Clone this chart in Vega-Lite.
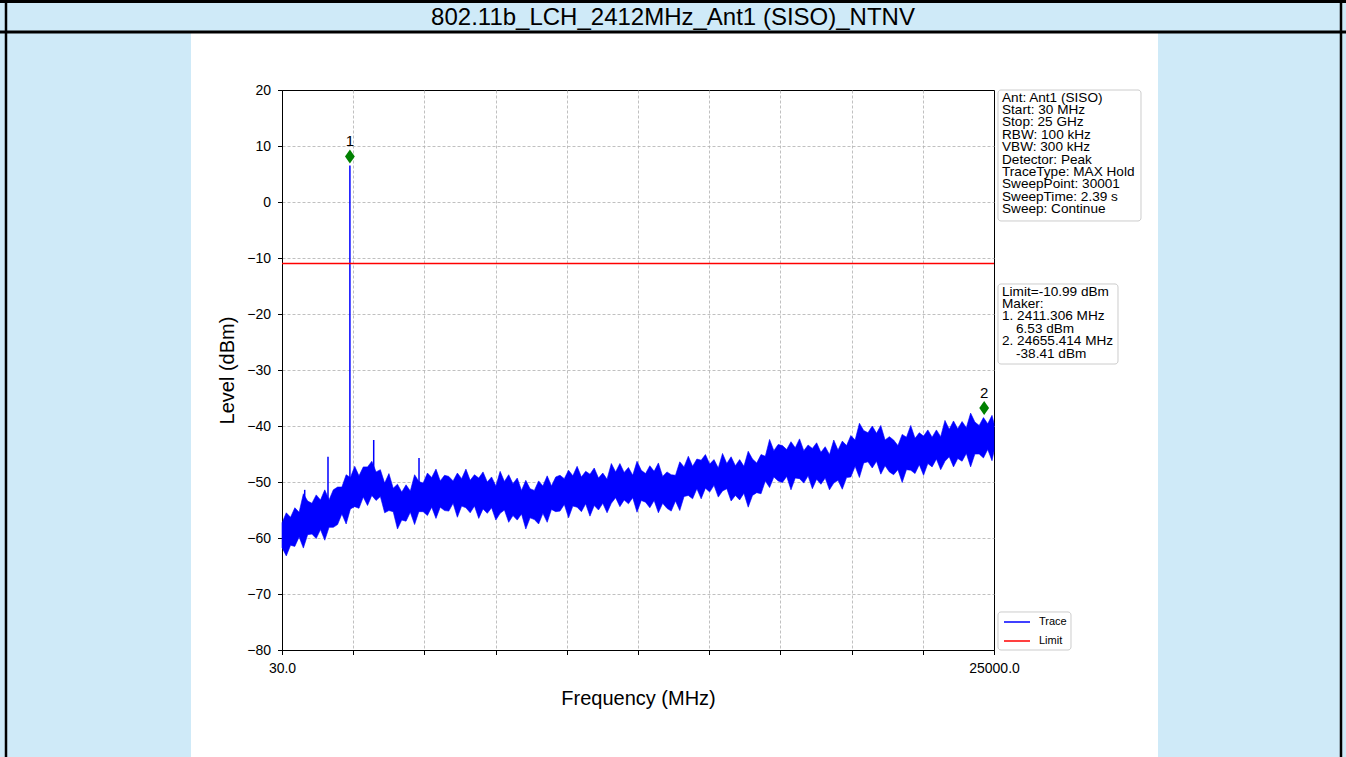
{
  "$schema": "https://vega.github.io/schema/vega-lite/v6.json",
  "width": 712,
  "height": 560,
  "autosize": {"type": "none"},
  "padding": {"left": 282, "top": 90, "right": 352, "bottom": 107},
  "background": "white",
  "config": {
    "font": "Liberation Sans",
    "view": {"stroke": "black", "strokeWidth": 1},
    "axis": {
      "labelFont": "Liberation Sans", "labelFontSize": 14, "labelColor": "black",
      "titleFont": "Liberation Sans", "titleFontSize": 20, "titleFontWeight": "normal", "titleColor": "black",
      "domainColor": "black", "domainWidth": 1, "tickColor": "black", "tickSize": 4.5, "tickWidth": 1,
      "gridColor": "#b0b0b0", "gridDash": [3, 2], "gridWidth": 0.8, "labelPadding": 7
    }
  },
  "datasets": {
    "trace": [
      {"f":30,"hi":-57.3,"lo":-61.7},{"f":180,"hi":-55.5,"lo":-63.2},{"f":330,"hi":-56.3,"lo":-61.3},{"f":480,"hi":-54.6,"lo":-61.5},
      {"f":630,"hi":-55.4,"lo":-59.8},{"f":780,"hi":-52.1,"lo":-61.8},{"f":930,"hi":-53.4,"lo":-59.4},{"f":1080,"hi":-53.8,"lo":-59.3},
      {"f":1230,"hi":-52.3,"lo":-60.1},{"f":1380,"hi":-53.2,"lo":-58.5},{"f":1530,"hi":-51.4,"lo":-60.4},{"f":1680,"hi":-53.2,"lo":-58.1},
      {"f":1830,"hi":-51.4,"lo":-58.1},{"f":1980,"hi":-50.9,"lo":-57.6},{"f":2130,"hi":-50.9,"lo":-55.7},{"f":2280,"hi":-48.7,"lo":-57.5},
      {"f":2430,"hi":-49.2,"lo":-54.8},{"f":2580,"hi":-47.2,"lo":-54.4},{"f":2730,"hi":-48.9,"lo":-54.7},{"f":2880,"hi":-47.3,"lo":-52.7},
      {"f":3030,"hi":-47.3,"lo":-54.2},{"f":3180,"hi":-46.3,"lo":-52.4},{"f":3330,"hi":-48.2,"lo":-53.3},{"f":3480,"hi":-47.8,"lo":-52.6},
      {"f":3630,"hi":-50.2,"lo":-55.5},{"f":3780,"hi":-48.5,"lo":-55.1},{"f":3930,"hi":-51.1,"lo":-55.3},{"f":4080,"hi":-50.4,"lo":-58.4},
      {"f":4230,"hi":-51.8,"lo":-56.8},{"f":4380,"hi":-50.5,"lo":-57.0},{"f":4530,"hi":-51.6,"lo":-55.4},{"f":4680,"hi":-48.7,"lo":-57.6},
      {"f":4830,"hi":-49.9,"lo":-55.3},{"f":4980,"hi":-50.2,"lo":-55.3},{"f":5130,"hi":-48.4,"lo":-56.0},{"f":5280,"hi":-49.2,"lo":-54.5},
      {"f":5430,"hi":-47.7,"lo":-56.5},{"f":5580,"hi":-49.8,"lo":-54.5},{"f":5730,"hi":-48.8,"lo":-55.1},{"f":5880,"hi":-49.0,"lo":-55.2},
      {"f":6030,"hi":-49.8,"lo":-53.8},{"f":6180,"hi":-48.4,"lo":-56.3},{"f":6330,"hi":-49.4,"lo":-54.3},{"f":6480,"hi":-47.7,"lo":-54.6},
      {"f":6630,"hi":-49.7,"lo":-55.5},{"f":6780,"hi":-48.7,"lo":-54.3},{"f":6930,"hi":-49.3,"lo":-56.5},{"f":7080,"hi":-48.2,"lo":-54.8},
      {"f":7230,"hi":-50.0,"lo":-55.6},{"f":7380,"hi":-49.1,"lo":-54.6},{"f":7530,"hi":-50.7,"lo":-56.8},{"f":7680,"hi":-48.1,"lo":-55.6},
      {"f":7830,"hi":-49.9,"lo":-55.0},{"f":7980,"hi":-48.7,"lo":-57.2},{"f":8130,"hi":-50.3,"lo":-56.0},{"f":8280,"hi":-49.3,"lo":-56.8},
      {"f":8430,"hi":-51.5,"lo":-55.7},{"f":8580,"hi":-49.7,"lo":-58.4},{"f":8730,"hi":-51.2,"lo":-56.4},{"f":8880,"hi":-51.5,"lo":-56.7},
      {"f":9030,"hi":-49.8,"lo":-57.5},{"f":9180,"hi":-50.7,"lo":-55.6},{"f":9330,"hi":-48.9,"lo":-57.2},{"f":9480,"hi":-50.7,"lo":-54.9},
      {"f":9630,"hi":-49.1,"lo":-55.3},{"f":9780,"hi":-48.8,"lo":-55.2},{"f":9930,"hi":-49.4,"lo":-54.0},{"f":10080,"hi":-47.9,"lo":-56.4},
      {"f":10230,"hi":-48.9,"lo":-54.3},{"f":10380,"hi":-47.2,"lo":-54.5},{"f":10530,"hi":-49.1,"lo":-55.3},{"f":10680,"hi":-48.1,"lo":-53.9},
      {"f":10830,"hi":-48.6,"lo":-56.1},{"f":10980,"hi":-47.5,"lo":-54.2},{"f":11130,"hi":-49.3,"lo":-55.0},{"f":11280,"hi":-48.4,"lo":-53.8},
      {"f":11430,"hi":-49.5,"lo":-55.5},{"f":11580,"hi":-46.7,"lo":-53.8},{"f":11730,"hi":-48.2,"lo":-52.8},{"f":11880,"hi":-46.7,"lo":-54.4},
      {"f":12030,"hi":-48.3,"lo":-53.2},{"f":12180,"hi":-47.4,"lo":-53.9},{"f":12330,"hi":-48.8,"lo":-52.8},{"f":12480,"hi":-46.3,"lo":-55.4},
      {"f":12630,"hi":-47.9,"lo":-53.3},{"f":12780,"hi":-48.5,"lo":-53.6},{"f":12930,"hi":-47.1,"lo":-54.6},{"f":13080,"hi":-48.1,"lo":-53.3},
      {"f":13230,"hi":-46.6,"lo":-55.5},{"f":13380,"hi":-49.0,"lo":-53.8},{"f":13530,"hi":-48.2,"lo":-54.7},{"f":13680,"hi":-48.7,"lo":-55.2},
      {"f":13830,"hi":-48.8,"lo":-53.4},{"f":13980,"hi":-46.4,"lo":-55.1},{"f":14130,"hi":-47.3,"lo":-52.6},{"f":14280,"hi":-45.4,"lo":-52.4},
      {"f":14430,"hi":-47.2,"lo":-53.0},{"f":14580,"hi":-45.9,"lo":-51.2},{"f":14730,"hi":-46.1,"lo":-53.0},{"f":14880,"hi":-45.1,"lo":-51.1},
      {"f":15030,"hi":-46.8,"lo":-51.8},{"f":15180,"hi":-46.0,"lo":-50.6},{"f":15330,"hi":-47.5,"lo":-52.7},{"f":15480,"hi":-44.9,"lo":-51.6},
      {"f":15630,"hi":-46.7,"lo":-51.2},{"f":15780,"hi":-45.5,"lo":-53.4},{"f":15930,"hi":-47.1,"lo":-52.4},{"f":16080,"hi":-46.0,"lo":-53.2},
      {"f":16230,"hi":-47.2,"lo":-52.0},{"f":16380,"hi":-44.5,"lo":-54.5},{"f":16530,"hi":-45.9,"lo":-52.4},{"f":16680,"hi":-46.6,"lo":-51.9},
      {"f":16830,"hi":-45.1,"lo":-52.1},{"f":16980,"hi":-45.4,"lo":-49.8},{"f":17130,"hi":-42.4,"lo":-51.0},{"f":17280,"hi":-44.4,"lo":-49.1},
      {"f":17430,"hi":-43.3,"lo":-49.8},{"f":17580,"hi":-43.5,"lo":-50.1},{"f":17730,"hi":-44.2,"lo":-49.0},{"f":17880,"hi":-42.8,"lo":-51.4},
      {"f":18030,"hi":-43.9,"lo":-49.3},{"f":18180,"hi":-42.3,"lo":-49.4},{"f":18330,"hi":-44.4,"lo":-50.2},{"f":18480,"hi":-43.4,"lo":-48.9},
      {"f":18630,"hi":-44.0,"lo":-51.2},{"f":18780,"hi":-43.0,"lo":-49.5},{"f":18930,"hi":-44.7,"lo":-50.4},{"f":19080,"hi":-43.7,"lo":-49.3},
      {"f":19230,"hi":-45.1,"lo":-51.4},{"f":19380,"hi":-42.5,"lo":-50.2},{"f":19530,"hi":-44.3,"lo":-49.7},{"f":19680,"hi":-42.7,"lo":-51.3},
      {"f":19830,"hi":-43.5,"lo":-49.2},{"f":19980,"hi":-41.7,"lo":-49.1},{"f":20130,"hi":-42.5,"lo":-47.2},{"f":20280,"hi":-39.5,"lo":-49.2},
      {"f":20430,"hi":-40.8,"lo":-46.6},{"f":20580,"hi":-41.2,"lo":-46.4},{"f":20730,"hi":-40.0,"lo":-47.5},{"f":20880,"hi":-41.3,"lo":-46.3},
      {"f":21030,"hi":-39.9,"lo":-48.6},{"f":21180,"hi":-42.5,"lo":-47.1},{"f":21330,"hi":-41.9,"lo":-48.2},{"f":21480,"hi":-42.5,"lo":-48.7},
      {"f":21630,"hi":-43.5,"lo":-47.8},{"f":21780,"hi":-41.5,"lo":-50.1},{"f":21930,"hi":-42.0,"lo":-47.8},{"f":22080,"hi":-39.9,"lo":-47.9},
      {"f":22230,"hi":-42.2,"lo":-48.5},{"f":22380,"hi":-41.2,"lo":-46.9},{"f":22530,"hi":-41.8,"lo":-48.8},{"f":22680,"hi":-40.7,"lo":-46.7},
      {"f":22830,"hi":-42.0,"lo":-47.3},{"f":22980,"hi":-40.7,"lo":-45.9},{"f":23130,"hi":-41.9,"lo":-47.8},{"f":23280,"hi":-39.0,"lo":-46.3},
      {"f":23430,"hi":-40.6,"lo":-45.5},{"f":23580,"hi":-39.1,"lo":-47.3},{"f":23730,"hi":-40.5,"lo":-45.8},{"f":23880,"hi":-39.2,"lo":-46.3},
      {"f":24030,"hi":-40.3,"lo":-44.9},{"f":24180,"hi":-37.7,"lo":-47.3},{"f":24330,"hi":-39.3,"lo":-45.0},{"f":24480,"hi":-39.9,"lo":-45.0},
      {"f":24630,"hi":-38.5,"lo":-45.7},{"f":24780,"hi":-39.6,"lo":-44.2},{"f":24930,"hi":-38.1,"lo":-46.2},{"f":25000,"hi":-39.5,"lo":-44.5}
    ],
    "spikes": [
      {"series":"Trace","f":826,"top":-51.4,"base":-57},
      {"series":"Trace","f":1643,"top":-45.5,"base":-55},
      {"series":"Trace","f":2411.306,"top":6.53,"base":-53},
      {"series":"Trace","f":3246,"top":-42.5,"base":-50},
      {"series":"Trace","f":4835,"top":-45.7,"base":-53}
    ],
    "limit": [
      {"series":"Limit","level":-10.99}
    ],
    "markers": [
      {"id":"1","f":2411.306,"level":6.53},
      {"id":"2","f":24655.414,"level":-38.41}
    ]
  },
  "layer": [
    {
      "data": {"name": "trace"},
      "mark": {"type": "area", "color": "#0000ff", "stroke": "#0000ff", "strokeWidth": 0.6},
      "encoding": {
        "x": {"field": "f", "type": "quantitative", "scale": {"domain": [30, 25000], "nice": false, "zero": false},
              "axis": {"title": "Frequency (MHz)", "values": [30, 2527, 5024, 7521, 10018, 12515, 15012, 17509, 20006, 22503, 25000],
                       "labelExpr": "datum.value == 30 || datum.value == 25000 ? format(datum.value, '.1f') : ''",
                       "labelOverlap": false, "labelFlush": false, "titlePadding": 13,
                       "gridOpacity": {"condition": {"test": "datum.value == 30 || datum.value == 25000", "value": 0}, "value": 1}}},
        "y": {"field": "hi", "type": "quantitative", "scale": {"domain": [-80, 20], "nice": false, "zero": false},
              "axis": {"title": "Level (dBm)", "values": [-80, -70, -60, -50, -40, -30, -20, -10, 0, 10, 20], "format": "d", "titlePadding": 9,
                       "gridOpacity": {"condition": {"test": "datum.value == -80 || datum.value == 20", "value": 0}, "value": 1}}},
        "y2": {"field": "lo"}
      }
    },
    {
      "data": {"name": "spikes"},
      "mark": {"type": "rule", "strokeWidth": 1.5},
      "encoding": {
        "x": {"field": "f", "type": "quantitative", "scale": {"domain": [30, 25000], "nice": false, "zero": false}},
        "y": {"field": "top", "type": "quantitative", "scale": {"domain": [-80, 20], "nice": false, "zero": false}},
        "y2": {"field": "base"},
        "color": {"field": "series", "type": "nominal", "scale": {"domain": ["Trace", "Limit"], "range": ["#0000ff", "#ff0000"]},
                  "legend": {"orient": "none", "legendX": 721, "legendY": 518, "title": null, "symbolType": "stroke", "symbolSize": 676,
                             "symbolStrokeWidth": 1.5, "labelFont": "Liberation Sans", "labelFontSize": 11, "labelColor": "black",
                             "padding": 0, "rowPadding": -11, "labelOffset": 8}}
      }
    },
    {
      "data": {"name": "limit"},
      "mark": {"type": "rule", "strokeWidth": 1.5},
      "encoding": {
        "y": {"field": "level", "type": "quantitative", "scale": {"domain": [-80, 20], "nice": false, "zero": false}},
        "color": {"field": "series", "type": "nominal"}
      }
    },
    {
      "data": {"name": "markers"},
      "mark": {"type": "point", "shape": "M0,-1L0.7,0L0,1L-0.7,0Z", "size": 196, "filled": true, "color": "green", "opacity": 1, "yOffset": -9, "clip": false},
      "encoding": {
        "x": {"field": "f", "type": "quantitative", "scale": {"domain": [30, 25000], "nice": false, "zero": false}},
        "y": {"field": "level", "type": "quantitative", "scale": {"domain": [-80, 20], "nice": false, "zero": false}}
      }
    },
    {
      "data": {"name": "markers"},
      "mark": {"type": "text", "font": "Liberation Sans", "fontSize": 15, "color": "black", "baseline": "middle", "align": "center", "dy": -24, "clip": false},
      "encoding": {
        "x": {"field": "f", "type": "quantitative", "scale": {"domain": [30, 25000], "nice": false, "zero": false}},
        "y": {"field": "level", "type": "quantitative", "scale": {"domain": [-80, 20], "nice": false, "zero": false}},
        "text": {"field": "id"}
      }
    },
    {
      "data": {"values": [{}]},
      "mark": {"type": "rect", "color": "#cfeaf8", "clip": false},
      "encoding": {
        "x": {"datum": -10000, "type": "quantitative", "scale": {"domain": [30, 25000], "nice": false, "zero": false}},
        "x2": {"datum": -3161.4},
        "y": {"datum": 37, "type": "quantitative", "scale": {"domain": [-80, 20], "nice": false, "zero": false}},
        "y2": {"datum": -100}
      }
    },
    {
      "data": {"values": [{}]},
      "mark": {"type": "rect", "color": "#cfeaf8", "clip": false},
      "encoding": {
        "x": {"datum": 30751.5, "type": "quantitative", "scale": {"domain": [30, 25000], "nice": false, "zero": false}},
        "x2": {"datum": 38000},
        "y": {"datum": 37, "type": "quantitative", "scale": {"domain": [-80, 20], "nice": false, "zero": false}},
        "y2": {"datum": -100}
      }
    },
    {
      "data": {"values": [{}]},
      "mark": {"type": "rect", "color": "#cfeaf8", "clip": false},
      "encoding": {
        "x": {"datum": -10000, "type": "quantitative", "scale": {"domain": [30, 25000], "nice": false, "zero": false}},
        "x2": {"datum": 38000},
        "y": {"datum": 37, "type": "quantitative", "scale": {"domain": [-80, 20], "nice": false, "zero": false}},
        "y2": {"datum": 30.18}
      }
    },
    {
      "data": {"values": [{}]},
      "mark": {"type": "rule", "color": "black", "strokeWidth": 3, "clip": false},
      "encoding": {
        "x": {"datum": -10000, "type": "quantitative", "scale": {"domain": [30, 25000], "nice": false, "zero": false}},
        "x2": {"datum": 38000},
        "y": {"datum": 35.8, "type": "quantitative", "scale": {"domain": [-80, 20], "nice": false, "zero": false}}
      }
    },
    {
      "data": {"values": [{}]},
      "mark": {"type": "rule", "color": "black", "strokeWidth": 3, "clip": false},
      "encoding": {
        "x": {"datum": -10000, "type": "quantitative", "scale": {"domain": [30, 25000], "nice": false, "zero": false}},
        "x2": {"datum": 38000},
        "y": {"datum": 30.357, "type": "quantitative", "scale": {"domain": [-80, 20], "nice": false, "zero": false}}
      }
    },
    {
      "data": {"values": [{}]},
      "mark": {"type": "rule", "color": "black", "strokeWidth": 2.5, "clip": false},
      "encoding": {
        "x": {"datum": -9649.4, "type": "quantitative", "scale": {"domain": [30, 25000], "nice": false, "zero": false}},
        "y": {"datum": 37, "type": "quantitative", "scale": {"domain": [-80, 20], "nice": false, "zero": false}},
        "y2": {"datum": -100}
      }
    },
    {
      "data": {"values": [{}]},
      "mark": {"type": "rule", "color": "black", "strokeWidth": 2.5, "clip": false},
      "encoding": {
        "x": {"datum": 37169.3, "type": "quantitative", "scale": {"domain": [30, 25000], "nice": false, "zero": false}},
        "y": {"datum": 37, "type": "quantitative", "scale": {"domain": [-80, 20], "nice": false, "zero": false}},
        "y2": {"datum": -100}
      }
    },
    {
      "data": {"values": [{}]},
      "mark": {"type": "text", "font": "Liberation Sans", "fontSize": 24, "color": "black", "align": "center", "baseline": "middle", "clip": false},
      "encoding": {
        "x": {"datum": 13742.4, "type": "quantitative", "scale": {"domain": [30, 25000], "nice": false, "zero": false}},
        "y": {"datum": 32.946, "type": "quantitative", "scale": {"domain": [-80, 20], "nice": false, "zero": false}},
        "text": {"value": "802.11b_LCH_2412MHz_Ant1 (SISO)_NTNV"}
      }
    },
    {
      "data": {"values": [{}]},
      "mark": {"type": "rect", "fill": "white", "stroke": "#cccccc", "strokeWidth": 1, "cornerRadius": 3, "clip": false},
      "encoding": {
        "x": {"datum": 25140, "type": "quantitative", "scale": {"domain": [30, 25000], "nice": false, "zero": false}},
        "x2": {"datum": 30155},
        "y": {"datum": 20, "type": "quantitative", "scale": {"domain": [-80, 20], "nice": false, "zero": false}},
        "y2": {"datum": -3.39}
      }
    },
    {
      "data": {"values": [{}]},
      "mark": {"type": "text", "font": "Liberation Sans", "fontSize": 13.6, "color": "black", "align": "left", "baseline": "top", "lineHeight": 12.4, "clip": false},
      "encoding": {
        "x": {"datum": 25280.5, "type": "quantitative", "scale": {"domain": [30, 25000], "nice": false, "zero": false}},
        "y": {"datum": 19.89, "type": "quantitative", "scale": {"domain": [-80, 20], "nice": false, "zero": false}},
        "text": {"value": ["Ant: Ant1 (SISO)", "Start: 30 MHz", "Stop: 25 GHz", "RBW: 100 kHz", "VBW: 300 kHz", "Detector: Peak", "TraceType: MAX Hold", "SweepPoint: 30001", "SweepTime: 2.39 s", "Sweep: Continue"]}
      }
    },
    {
      "data": {"values": [{}]},
      "mark": {"type": "rect", "fill": "white", "stroke": "#cccccc", "strokeWidth": 1, "cornerRadius": 3, "clip": false},
      "encoding": {
        "x": {"datum": 25140, "type": "quantitative", "scale": {"domain": [30, 25000], "nice": false, "zero": false}},
        "x2": {"datum": 29348.7},
        "y": {"datum": -14.64, "type": "quantitative", "scale": {"domain": [-80, 20], "nice": false, "zero": false}},
        "y2": {"datum": -28.93}
      }
    },
    {
      "data": {"values": [{}]},
      "mark": {"type": "text", "font": "Liberation Sans", "fontSize": 13.6, "color": "black", "align": "left", "baseline": "top", "lineHeight": 12.4, "clip": false},
      "encoding": {
        "x": {"datum": 25280.5, "type": "quantitative", "scale": {"domain": [30, 25000], "nice": false, "zero": false}},
        "y": {"datum": -14.75, "type": "quantitative", "scale": {"domain": [-80, 20], "nice": false, "zero": false}},
        "text": {"value": ["Limit=-10.99 dBm", "Maker:", "1. 2411.306 MHz"]}
      }
    },
    {
      "data": {"values": [{}]},
      "mark": {"type": "text", "font": "Liberation Sans", "fontSize": 13.6, "color": "black", "align": "left", "baseline": "top", "clip": false},
      "encoding": {
        "x": {"datum": 25771.5, "type": "quantitative", "scale": {"domain": [30, 25000], "nice": false, "zero": false}},
        "y": {"datum": -21.393, "type": "quantitative", "scale": {"domain": [-80, 20], "nice": false, "zero": false}},
        "text": {"value": "6.53 dBm"}
      }
    },
    {
      "data": {"values": [{}]},
      "mark": {"type": "text", "font": "Liberation Sans", "fontSize": 13.6, "color": "black", "align": "left", "baseline": "top", "clip": false},
      "encoding": {
        "x": {"datum": 25280.5, "type": "quantitative", "scale": {"domain": [30, 25000], "nice": false, "zero": false}},
        "y": {"datum": -23.607, "type": "quantitative", "scale": {"domain": [-80, 20], "nice": false, "zero": false}},
        "text": {"value": "2. 24655.414 MHz"}
      }
    },
    {
      "data": {"values": [{}]},
      "mark": {"type": "text", "font": "Liberation Sans", "fontSize": 13.6, "color": "black", "align": "left", "baseline": "top", "clip": false},
      "encoding": {
        "x": {"datum": 25771.5, "type": "quantitative", "scale": {"domain": [30, 25000], "nice": false, "zero": false}},
        "y": {"datum": -25.821, "type": "quantitative", "scale": {"domain": [-80, 20], "nice": false, "zero": false}},
        "text": {"value": "-38.41 dBm"}
      }
    },
    {
      "data": {"values": [{}]},
      "mark": {"type": "rect", "fill": "white", "stroke": "#cccccc", "strokeWidth": 1, "cornerRadius": 3, "clip": false},
      "encoding": {
        "x": {"datum": 25140, "type": "quantitative", "scale": {"domain": [30, 25000], "nice": false, "zero": false}},
        "x2": {"datum": 27700.4},
        "y": {"datum": -73.21, "type": "quantitative", "scale": {"domain": [-80, 20], "nice": false, "zero": false}},
        "y2": {"datum": -80}
      }
    }
  ]
}
